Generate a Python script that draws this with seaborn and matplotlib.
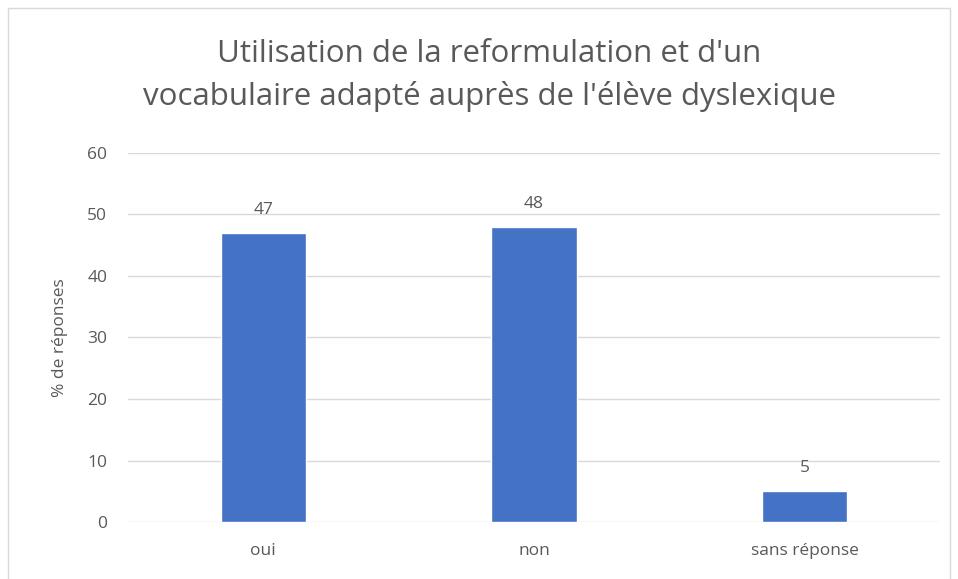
import matplotlib.pyplot as plt
import seaborn as sns
import pandas as pd
from matplotlib.patches import Rectangle

categories = ['oui', 'non', 'sans réponse']
values = [47, 48, 5]
yticks = [0, 10, 20, 30, 40, 50, 60]

df = pd.DataFrame({'reponse': categories, 'pct': values})

sns.set_theme(style='white')
plt.rcParams['font.family'] = ['Open Sans', 'DejaVu Sans']
grey = '#595959'

fig = plt.figure(figsize=(9.58, 5.79), dpi=100)
ax = fig.add_axes([0.1336, 0.0984, 0.8475, 0.6374])

sns.barplot(data=df, x='reponse', y='pct', color='#4472C4', width=0.315,
            saturation=1, ax=ax, zorder=3)

for i, v in enumerate(values):
    ax.annotate(str(v), (i, v), xytext=(0, 11), textcoords='offset points',
                ha='center', va='bottom', fontsize=12.5, color=grey)

ax.set_ylim(0, 60)
ax.set_yticks(yticks)
ax.yaxis.grid(True, color='#D9D9D9', linewidth=1, zorder=0)
ax.set_xlim(-0.5, 2.5)
for s in ax.spines.values():
    s.set_visible(False)
ax.tick_params(axis='both', length=0, labelsize=12.5, colors=grey)
ax.tick_params(axis='y', pad=15)
ax.tick_params(axis='x', pad=15)
ax.set_xlabel('')
ax.set_ylabel('% de réponses', fontsize=12.5, color=grey, labelpad=14)

fig.text(0.511, 0.870, "Utilisation de la reformulation et d'un\nvocabulaire adapté auprès de l'élève dyslexique",
         ha='center', va='center', fontsize=22.5, color=grey, linespacing=1.5)

fig.patches.append(Rectangle((8 / 958, -0.01), 942 / 958, 1 - 8 / 579 + 0.01,
                             transform=fig.transFigure, fill=False,
                             edgecolor='#D9D9D9', linewidth=1))

fig.savefig('out.png', dpi=100)
